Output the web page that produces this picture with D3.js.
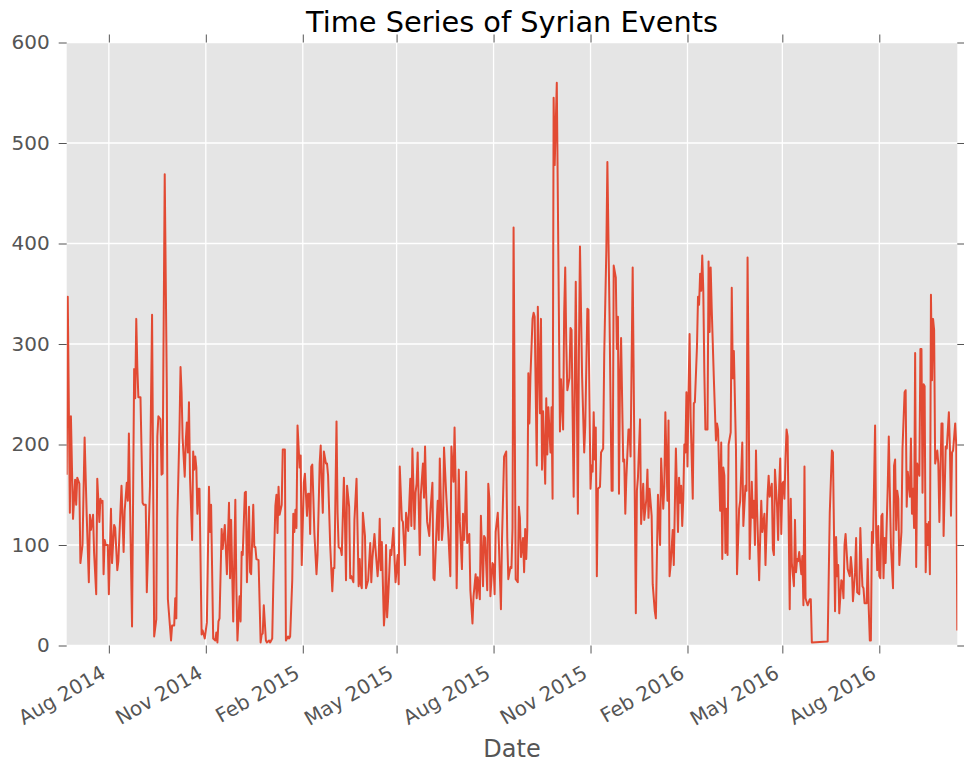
<!DOCTYPE html>
<html>
<head>
<meta charset="utf-8">
<script src="https://cdn.jsdelivr.net/npm/d3@7"></script>
<style>
  body { margin: 0; background: #fff; }
  svg { display: block; font-family: "DejaVu Sans", sans-serif; }
  .axis .domain { display: none; }
  .axis line { stroke: #555; stroke-width: 1; }
  .axis text { fill: #555; font-size: 20px; font-family: "DejaVu Sans", sans-serif; }
  .grid line { stroke: #fff; stroke-width: 1.3; }
</style>
</head>
<body>
<svg id="chart" width="964" height="771"></svg>
<script>
// first day of the series; dayIndex counts days from it
var startDate = "2014-06-22";

var dayIndex = [
  0, 1, 3, 4, 6, 8, 9, 10, 12, 13, 15, 17, 19, 21, 22, 23, 25, 26, 28, 29, 31, 32, 33, 34, 35, 36, 37, 39, 40, 42,
  43, 45, 46, 48, 49, 52, 54, 55, 57, 58, 59, 62, 64, 65, 66, 67, 68, 70, 72, 73, 75, 76, 79, 81, 83, 85, 86, 87, 89, 90,
  91, 93, 95, 96, 99, 100, 102, 103, 104, 105, 107, 108, 109, 110, 112, 113, 114, 115, 116, 117, 119, 120, 121, 122, 123, 124, 125, 126, 128,
  129, 131, 132, 133, 135, 136, 137, 139, 141, 142, 143, 144, 145, 147, 148, 150, 151, 152, 154, 155, 156, 158, 160, 161, 162, 164, 165, 166, 167, 169,
  170, 171, 173, 174, 175, 177, 178, 179, 180, 182, 184, 185, 186, 187, 189, 190, 192, 193, 195, 196, 198, 199, 200, 201, 202, 204, 205, 206, 207, 208,
  210, 211, 212, 214, 215, 216, 217, 218, 219, 221, 222, 223, 225, 226, 228, 229, 230, 231, 232, 233, 234, 235, 237, 238, 240, 241, 242, 243, 244, 246,
  247, 248, 250, 252, 253, 254, 256, 257, 258, 260, 261, 263, 264, 265, 266, 268, 269, 270, 272, 273, 275, 277, 278, 279, 280, 281, 283, 284, 286, 288,
  289, 290, 292, 293, 295, 296, 297, 298, 299, 301, 302, 303, 304, 305, 307, 308, 310, 311, 312, 314, 315, 316, 318, 319, 321, 322, 324, 326, 327, 328,
  330, 331, 332, 333, 335, 336, 338, 339, 340, 341, 342, 344, 345, 347, 348, 349, 351, 352, 353, 354, 356, 357, 358, 360, 362, 364, 365, 367, 368, 369,
  370, 372, 373, 375, 376, 377, 378, 379, 380, 382, 383, 385, 386, 388, 389, 390, 392, 393, 395, 396, 397, 399, 400, 401, 402, 404, 405, 406, 407, 409,
  410, 412, 413, 415, 417, 418, 419, 421, 422, 423, 424, 426, 428, 429, 430, 431, 433, 434, 435, 436, 437, 438, 439, 440, 442, 443, 444, 446, 447,
  449, 450, 451, 452, 454, 455, 456, 457, 459, 460, 461, 462, 463, 465, 468, 469, 471, 472, 473, 474, 475, 477, 478, 479, 481, 483, 485, 486, 487, 489,
  491, 492, 494, 495, 497, 498, 499, 500, 501, 502, 503, 504, 506, 507, 509, 510, 512, 513, 515, 517, 518, 519, 521, 522, 523, 524, 525, 526, 528, 529,
  530, 531, 533, 534, 535, 537, 540, 541, 542, 544, 545, 547, 548, 550, 551, 552, 553, 555, 556, 558, 559, 561, 563, 564, 566, 567, 568, 570, 571, 572,
  573, 575, 576, 578, 579, 580, 581, 582, 583, 584, 585, 586, 587, 588, 589, 590, 591, 592, 594, 595, 596, 598, 599, 600, 601, 602, 603, 604, 605, 606,
  608, 609, 610, 611, 612, 614, 615, 616, 617, 618, 620, 621, 622, 623, 624, 625, 626, 627, 628, 630, 631, 632, 633, 635, 636, 638, 639, 641, 642, 644,
  645, 646, 647, 648, 650, 651, 652, 653, 654, 655, 657, 658, 659, 660, 662, 663, 664, 665, 666, 667, 669, 670, 671, 672, 674, 675, 676, 677, 678, 679,
  680, 681, 682, 683, 684, 686, 687, 688, 690, 691, 692, 693, 694, 695, 697, 698, 699, 700, 701, 703, 705, 706, 707, 722, 724, 726, 727, 729, 730, 731,
  732, 733, 735, 736, 737, 738, 739, 741, 743, 744, 745, 746, 748, 749, 750, 752, 753, 754, 755, 756, 757, 759, 760, 761, 762, 763, 764, 765, 767, 768,
  769, 770, 771, 772, 773, 774, 775, 776, 777, 779, 780, 782, 784, 785, 786, 787, 788, 789, 790, 792, 793, 795, 796, 797, 798, 800, 801, 802, 803, 804,
  805, 806, 807, 809, 810, 811, 812, 813, 814, 815, 816, 817, 818, 819, 820, 821, 822, 823, 824, 826, 827, 828, 830, 831, 832, 834, 835, 837, 838, 839,
  840, 841, 843, 844, 845
];

var eventCount = [
  170, 347, 132, 228, 126, 165, 140, 167, 161, 82, 100, 207, 129, 63, 130, 115, 130, 92, 51, 166, 123, 146, 142, 144, 71, 105, 100, 100, 51, 136,
  82, 120, 117, 75, 84, 159, 93, 134, 162, 144, 211, 19, 275, 246, 325, 277, 247, 247, 142, 140, 140, 53, 158, 329, 9, 26, 208, 228, 225, 170,
  171, 469, 254, 46, 5, 20, 20, 47, 27, 127, 215, 277, 252, 206, 168, 204, 222, 192, 242, 167, 105, 193, 175, 188, 177, 131, 156, 156, 11,
  15, 7, 15, 23, 158, 113, 140, 7, 5, 13, 3, 24, 27, 116, 96, 120, 96, 71, 142, 67, 125, 24, 145, 57, 5, 49, 24, 93, 90, 152,
  153, 63, 138, 73, 71, 140, 98, 98, 86, 85, 3, 11, 12, 40, 5, 3, 5, 3, 7, 59, 139, 150, 112, 158, 130, 140, 195, 195, 195, 5,
  9, 7, 9, 65, 131, 113, 135, 117, 219, 177, 189, 80, 162, 171, 129, 151, 151, 111, 178, 180, 148, 112, 71, 90, 181, 199, 161, 132, 193, 181,
  181, 169, 100, 54, 77, 77, 223, 132, 98, 96, 90, 167, 124, 65, 159, 138, 67, 69, 63, 125, 166, 59, 86, 61, 57, 132, 109, 57, 65, 102,
  63, 86, 111, 96, 69, 86, 126, 75, 103, 20, 36, 100, 28, 47, 95, 90, 117, 88, 63, 90, 61, 178, 125, 123, 80, 132, 114, 166, 119, 196,
  116, 152, 161, 192, 90, 150, 181, 147, 198, 152, 123, 109, 132, 162, 67, 65, 120, 144, 105, 186, 105, 119, 197, 152, 113, 69, 198, 163, 217, 163,
  57, 175, 123, 76, 131, 105, 129, 173, 102, 111, 55, 22, 49, 71, 47, 68, 46, 129, 59, 109, 107, 55, 161, 146, 49, 82, 80, 51, 113, 132,
  103, 36, 105, 188, 193, 107, 66, 78, 77, 117, 416, 66, 63, 138, 127, 88, 107, 73, 116, 86, 115, 271, 221, 268, 325, 331, 327, 179, 337,
  231, 325, 175, 233, 161, 246, 190, 237, 192, 237, 146, 545, 478, 560, 213, 265, 215, 331, 376, 300, 254, 266, 316, 314, 148, 362, 131, 293, 397, 268,
  192, 219, 335, 334, 156, 179, 173, 232, 185, 217, 69, 156, 158, 192, 196, 289, 393, 481, 331, 154, 154, 378, 366, 295, 327, 151, 266, 306, 183, 185,
  131, 167, 215, 215, 188, 376, 32, 154, 167, 225, 121, 161, 125, 146, 175, 127, 156, 129, 61, 34, 27, 150, 100, 186, 136, 158, 232, 144, 224, 69,
  80, 115, 80, 196, 154, 113, 167, 142, 159, 119, 146, 200, 192, 252, 178, 252, 310, 227, 146, 241, 242, 297, 347, 339, 370, 353, 388, 353, 271, 215,
  215, 382, 312, 376, 335, 266, 235, 204, 221, 215, 134, 202, 86, 177, 169, 92, 136, 90, 200, 212, 356, 266, 293, 196, 71, 136, 144, 202, 119, 159,
  154, 386, 264, 86, 163, 127, 144, 100, 194, 136, 65, 107, 144, 113, 131, 80, 115, 150, 169, 148, 161, 96, 90, 175, 138, 105, 158, 186, 111, 161,
  163, 146, 186, 215, 208, 36, 146, 82, 59, 125, 73, 86, 84, 93, 71, 89, 40, 178, 47, 40, 46, 46, 3, 4, 132, 194, 192, 34, 108, 69,
  80, 32, 65, 63, 47, 100, 111, 76, 69, 88, 76, 44, 73, 107, 53, 51, 117, 84, 59, 57, 42, 42, 86, 36, 5, 5, 113, 102, 219, 113,
  75, 119, 69, 67, 129, 131, 67, 107, 82, 158, 208, 100, 57, 179, 185, 115, 154, 146, 80, 113, 196, 252, 254, 138, 173, 148, 206, 131, 156, 117,
  291, 78, 181, 169, 295, 295, 152, 260, 258, 73, 121, 100, 123, 71, 349, 264, 325, 314, 181, 194, 181, 123, 221, 221, 109, 198, 196, 232, 196, 129,
  192, 194, 221, 200, 15
];

var xTickDates = [
  "2014-08-01", "2014-11-01", "2015-02-01", "2015-05-01", "2015-08-01",
  "2015-11-01", "2016-02-01", "2016-05-01", "2016-08-01"
];
var yTickValues = [0, 100, 200, 300, 400, 500, 600];

var width = 964,
  height = 771,
  margin = { top: 42.5, right: 6.7, bottom: 125.5, left: 66.7 };

var innerW = width - margin.left - margin.right,
  innerH = height - margin.top - margin.bottom;

var parseDate = d3.timeParse("%Y-%m-%d");
var start = parseDate(startDate);

var data = dayIndex.map(function(d, i) {
  return { date: d3.timeDay.offset(start, d), value: eventCount[i] };
});

var svg = d3.select("#chart");

var x = d3
  .scaleTime()
  .domain(d3.extent(data, function(d) {
    return d.date;
  }))
  .range([0, innerW]);

var y = d3
  .scaleLinear()
  .domain([0, 600])
  .range([innerH, 0]);

var ticksX = xTickDates.map(parseDate);

var g = svg
  .append("g")
  .attr("transform", "translate(" + margin.left + "," + margin.top + ")");

svg
  .append("defs")
  .append("clipPath")
  .attr("id", "clip")
  .append("rect")
  .attr("width", innerW)
  .attr("height", innerH);

// panel background
g
  .append("rect")
  .attr("width", innerW)
  .attr("height", innerH)
  .attr("fill", "#e5e5e5");

// white grid
var grid = g.append("g").attr("class", "grid");

grid
  .selectAll(".gy")
  .data(yTickValues)
  .enter()
  .append("line")
  .attr("x1", 0)
  .attr("x2", innerW)
  .attr("y1", function(d) {
    return y(d);
  })
  .attr("y2", function(d) {
    return y(d);
  });

grid
  .selectAll(".gx")
  .data(ticksX)
  .enter()
  .append("line")
  .attr("y1", 0)
  .attr("y2", innerH)
  .attr("x1", function(d) {
    return x(d);
  })
  .attr("x2", function(d) {
    return x(d);
  });

// series
var line = d3
  .line()
  .x(function(d) {
    return x(d.date);
  })
  .y(function(d) {
    return y(d.value);
  });

g
  .append("path")
  .datum(data)
  .attr("clip-path", "url(#clip)")
  .attr("fill", "none")
  .attr("stroke", "#e24a33")
  .attr("stroke-width", 2)
  .attr("stroke-linejoin", "round")
  .attr("d", line);

// axes
var xAxis = g
  .append("g")
  .attr("class", "axis")
  .attr("transform", "translate(0," + innerH + ")")
  .call(
    d3
      .axisBottom(x)
      .tickValues(ticksX)
      .tickSize(8)
      .tickFormat(d3.timeFormat("%b %Y"))
  );

xAxis
  .selectAll("text")
  .attr("y", null)
  .attr("dy", null)
  .attr("text-anchor", "end")
  .attr("transform", "translate(-2.3,31.5) rotate(-30)");

g
  .append("g")
  .attr("class", "axis")
  .call(
    d3
      .axisTop(x)
      .tickValues(ticksX)
      .tickSize(8)
      .tickFormat("")
  );

g
  .append("g")
  .attr("class", "axis")
  .call(
    d3
      .axisLeft(y)
      .tickValues(yTickValues)
      .tickSize(8)
      .tickPadding(9)
  );

g
  .append("g")
  .attr("class", "axis")
  .attr("transform", "translate(" + innerW + ",0)")
  .call(
    d3
      .axisRight(y)
      .tickValues(yTickValues)
      .tickSize(8)
      .tickFormat("")
  );

// title and label
svg
  .append("text")
  .attr("x", margin.left + innerW / 2)
  .attr("y", 32)
  .attr("text-anchor", "middle")
  .attr("font-size", "28.8px")
  .attr("fill", "#000")
  .text("Time Series of Syrian Events");

svg
  .append("text")
  .attr("x", margin.left + innerW / 2)
  .attr("y", 757)
  .attr("text-anchor", "middle")
  .attr("font-size", "24px")
  .attr("fill", "#555")
  .text("Date");
</script>
</body>
</html>
